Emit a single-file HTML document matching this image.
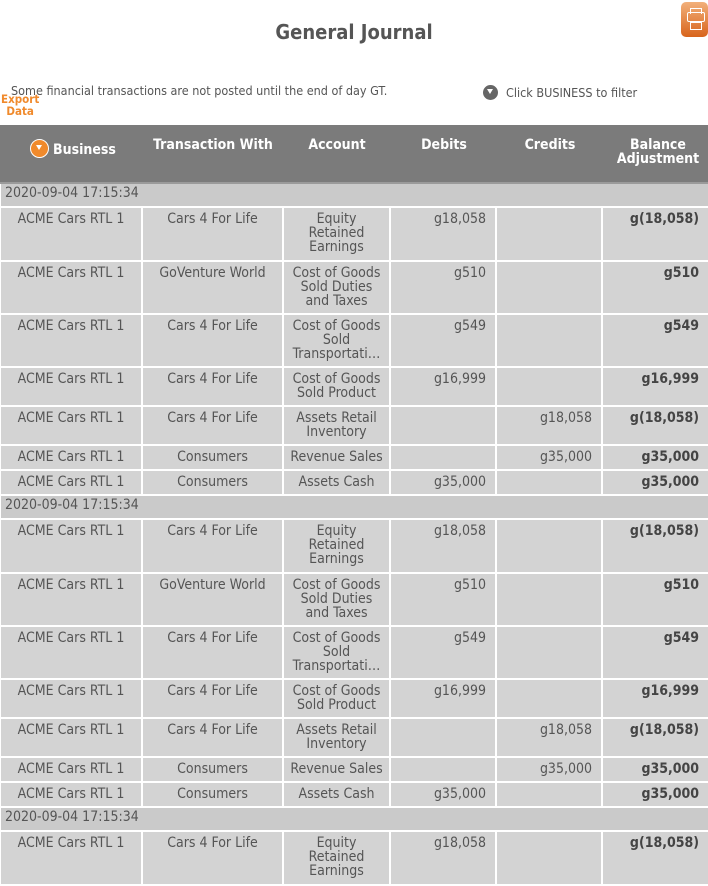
<!DOCTYPE html>
<html><head><meta charset="utf-8"><style>
body{margin:0;width:708px;height:840px;overflow:hidden;background:#fff;font-family:"DejaVu Sans Condensed","Liberation Sans Narrow","Liberation Sans",sans-serif;color:#555;position:relative}
.t{position:absolute;left:0;width:708px;top:20px;text-align:center;font-size:20px;font-weight:bold;color:#555}
.pr{position:absolute;left:681px;top:2px;width:27px;height:35px;border-radius:5px;background:linear-gradient(#f2b07a,#d8641c)}
.pr i{position:absolute;left:6px;top:10px;width:16px;height:8px;border:1.5px solid #fff;border-radius:2px}
.pr b{position:absolute;left:9px;top:6px;width:10px;height:5px;border:1.5px solid #fff;border-bottom:none}
.pr u{position:absolute;left:9px;top:20px;width:10px;height:6px;border:1.5px solid #fff}
.note{position:absolute;left:11px;top:83px;font-size:12.5px}
.flt{position:absolute;left:483px;top:85px;font-size:12.5px}
.flt span{display:inline-block;width:15px;height:15px;border-radius:50%;background:#666;vertical-align:-3px;margin-right:8px;position:relative}
.flt span:after,.hb span:after{content:"";position:absolute;left:4px;top:4px;border-left:3.5px solid transparent;border-right:3.5px solid transparent;border-top:5px solid #fff}
.exp{position:absolute;left:1px;top:93px;font-size:11.5px;font-weight:bold;color:#f08a2c;line-height:12px;text-align:center}
.hd{position:absolute;left:0;top:125px;width:708px;height:57px;background:#7b7b7b;border-bottom:2px solid #9a9a9a;color:#fff;font-weight:bold;font-size:14px}
.hd div{position:absolute;text-align:center;line-height:14px}
.hb span{display:inline-block;width:17px;height:17px;border-radius:50%;background:#f08a2c;border:1px solid #fff;vertical-align:-4px;margin-right:4px;position:relative}
.hb span:after{left:5px;top:5px}
table{position:absolute;left:-1px;border-spacing:2px;font-size:14px;table-layout:fixed;width:711px}
td{background:#d3d3d3;padding:4px 0 0;vertical-align:top;line-height:14px;text-align:center;overflow:hidden;white-space:nowrap}
td.r{text-align:right;padding-right:9px}
td.b{font-weight:bold;color:#444}
tr.d td{background:#cacaca;text-align:left;padding:2px 0 0 4px;height:20px;vertical-align:top}
</style></head><body>
<div class="t">General Journal</div>
<div class="pr"><b></b><i></i><u></u></div>
<div class="note">Some financial transactions are not posted until the end of day GT.</div>
<div class="flt"><span></span>Click BUSINESS to filter</div>
<div class="exp">Export<br>Data</div>
<div class="hd">
<div class="hb" style="left:30px;top:14px">  <span></span>Business</div>
<div style="left:143px;width:140px;top:13px">Transaction With</div>
<div style="left:284px;width:106px;top:13px">Account</div>
<div style="left:391px;width:106px;top:13px">Debits</div>
<div style="left:497px;width:106px;top:13px">Credits</div>
<div style="left:608px;width:100px;top:13px">Balance<br>Adjustment</div>
</div>
<table style="top:182px">
<colgroup><col style="width:140px"><col style="width:139px"><col style="width:105px"><col style="width:104px"><col style="width:104px"><col style="width:105px"></colgroup>
<tr class="d"><td colspan="6">2020-09-04 17:15:34</td></tr>
<tr style="height:52px"><td>ACME Cars RTL 1</td><td>Cars 4 For Life</td><td>Equity<br>Retained<br>Earnings</td><td class="r">g18,058</td><td class="r"></td><td class="r b">g(18,058)</td></tr>
<tr style="height:51px"><td>ACME Cars RTL 1</td><td>GoVenture World</td><td>Cost of Goods<br>Sold Duties<br>and Taxes</td><td class="r">g510</td><td class="r"></td><td class="r b">g510</td></tr>
<tr style="height:51px"><td>ACME Cars RTL 1</td><td>Cars 4 For Life</td><td>Cost of Goods<br>Sold<br>Transportati…</td><td class="r">g549</td><td class="r"></td><td class="r b">g549</td></tr>
<tr style="height:37px"><td>ACME Cars RTL 1</td><td>Cars 4 For Life</td><td>Cost of Goods<br>Sold Product</td><td class="r">g16,999</td><td class="r"></td><td class="r b">g16,999</td></tr>
<tr style="height:37px"><td>ACME Cars RTL 1</td><td>Cars 4 For Life</td><td>Assets Retail<br>Inventory</td><td class="r"></td><td class="r">g18,058</td><td class="r b">g(18,058)</td></tr>
<tr style="height:23px"><td>ACME Cars RTL 1</td><td>Consumers</td><td>Revenue Sales</td><td class="r"></td><td class="r">g35,000</td><td class="r b">g35,000</td></tr>
<tr style="height:23px"><td>ACME Cars RTL 1</td><td>Consumers</td><td>Assets Cash</td><td class="r">g35,000</td><td class="r"></td><td class="r b">g35,000</td></tr>
<tr class="d"><td colspan="6">2020-09-04 17:15:34</td></tr>
<tr style="height:52px"><td>ACME Cars RTL 1</td><td>Cars 4 For Life</td><td>Equity<br>Retained<br>Earnings</td><td class="r">g18,058</td><td class="r"></td><td class="r b">g(18,058)</td></tr>
<tr style="height:51px"><td>ACME Cars RTL 1</td><td>GoVenture World</td><td>Cost of Goods<br>Sold Duties<br>and Taxes</td><td class="r">g510</td><td class="r"></td><td class="r b">g510</td></tr>
<tr style="height:51px"><td>ACME Cars RTL 1</td><td>Cars 4 For Life</td><td>Cost of Goods<br>Sold<br>Transportati…</td><td class="r">g549</td><td class="r"></td><td class="r b">g549</td></tr>
<tr style="height:37px"><td>ACME Cars RTL 1</td><td>Cars 4 For Life</td><td>Cost of Goods<br>Sold Product</td><td class="r">g16,999</td><td class="r"></td><td class="r b">g16,999</td></tr>
<tr style="height:37px"><td>ACME Cars RTL 1</td><td>Cars 4 For Life</td><td>Assets Retail<br>Inventory</td><td class="r"></td><td class="r">g18,058</td><td class="r b">g(18,058)</td></tr>
<tr style="height:23px"><td>ACME Cars RTL 1</td><td>Consumers</td><td>Revenue Sales</td><td class="r"></td><td class="r">g35,000</td><td class="r b">g35,000</td></tr>
<tr style="height:23px"><td>ACME Cars RTL 1</td><td>Consumers</td><td>Assets Cash</td><td class="r">g35,000</td><td class="r"></td><td class="r b">g35,000</td></tr>
<tr class="d"><td colspan="6">2020-09-04 17:15:34</td></tr>
<tr style="height:52px"><td>ACME Cars RTL 1</td><td>Cars 4 For Life</td><td>Equity<br>Retained<br>Earnings</td><td class="r">g18,058</td><td class="r"></td><td class="r b">g(18,058)</td></tr>
</table>
</body></html>
